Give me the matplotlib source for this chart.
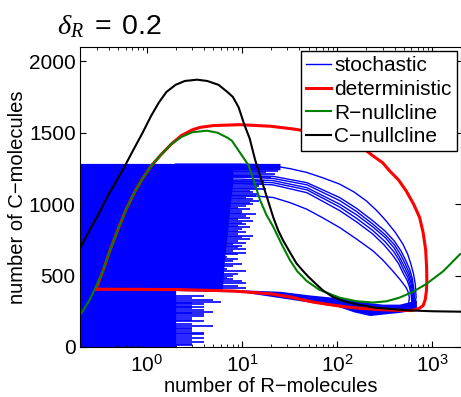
import numpy as np
import matplotlib.pyplot as plt

plt.rcParams['font.family'] = ['Liberation Sans', 'DejaVu Sans']
plt.rcParams['mathtext.fontset'] = 'custom'
plt.rcParams['mathtext.rm'] = 'Liberation Sans'
plt.rcParams['mathtext.it'] = 'Liberation Serif:italic'

# ---------------------------
# Data (R = number of R-molecules, C = number of C-molecules)
# ---------------------------
R_ZERO = 0.05  # states with R = 0 sit left of the log axis

# stochastic: solid block hugging the left edge
core_C = [0, 404, 404, 600, 800, 1000, 1150, 1240, 1240, 1285]
core_R = [2, 2, 6.2, 6.5, 7.0, 7.5, 8.0, 8.0, 25, 25]

# stochastic: single excursions below the deterministic low branch
low_spk_C = [357, 345, 330, 318, 310, 299, 290, 280, 270, 258, 247, 237, 229, 215,
             201, 190, 180, 163, 150, 135, 125, 112, 100, 89, 75, 61, 47, 35, 23, 12]
low_spk_R = [4, 3, 5, 6, 3, 4, 3, 4, 3, 4, 5, 3, 4, 4,
             3, 3, 4, 3, 5, 3, 3, 3, 4, 4, 3, 4, 3, 4, 3, 3]

# stochastic: excursions above it
up_spk_C = [416, 430, 451, 462, 474, 486, 498, 510, 533, 545, 568, 580, 603, 615,
            627, 650, 661, 673, 685, 697, 708, 720, 731, 743, 755, 767, 778, 790,
            802, 813, 825, 837, 848, 860, 871, 883, 894, 906, 918, 930, 941, 953,
            965, 976, 988, 1000, 1011, 1023, 1035, 1046, 1058, 1070, 1082, 1093,
            1105, 1116, 1128, 1140, 1152, 1163, 1187, 1198, 1210, 1222, 1233]
up_spk_R = [11, 9, 11, 10, 8, 7, 8, 9, 11, 7, 8, 10, 8, 9,
            7, 9, 11, 8, 11, 9, 10, 8, 11, 9, 12, 10, 13, 9,
            11, 9, 10, 12, 9, 11, 10, 13, 9, 12, 11, 14, 10, 10,
            12, 9, 11, 13, 12, 15, 13, 11, 14, 15, 13, 12,
            18, 14, 15, 16, 13, 17, 20, 15, 22, 18, 24]

# stochastic: bundle of excursions to high R
outer_R = [2, 9.5, 15, 21.3, 32, 47.6, 70, 106, 150, 202, 260, 326, 410, 490,
           550, 595, 635, 661, 675, 640]
outer_C = [1280, 1280, 1276, 1268, 1248, 1222, 1185, 1140, 1085, 1023, 955, 883,
           800, 720, 650, 580, 510, 439, 345, 290]
m1_R = [2, 9.5, 21, 48, 106, 160, 237, 320, 400, 470, 530, 580, 615, 640, 650, 610]
m1_C = [1200, 1200, 1195, 1150, 1046, 970, 883, 810, 740, 670, 600, 540, 480, 400, 330, 285]
m2_R = [2, 9.5, 21, 48, 106, 160, 237, 320, 400, 465, 520, 570, 605, 630, 640, 600]
m2_C = [1190, 1190, 1180, 1135, 1025, 948, 860, 785, 715, 645, 580, 520, 465, 390, 325, 283]
m3_R = [2, 9.5, 21, 48, 106, 160, 237, 320, 395, 455, 510, 560, 595, 620, 630, 590]
m3_C = [1175, 1175, 1165, 1115, 1000, 925, 840, 765, 695, 625, 560, 505, 450, 380, 320, 280]
m4_R = [2, 9.5, 21, 48, 106, 160, 237, 315, 390, 450, 500, 550, 585, 610, 620, 580]
m4_C = [1160, 1160, 1150, 1100, 980, 900, 815, 740, 670, 605, 540, 490, 435, 370, 315, 278]
m5_R = [2, 9.5, 21, 48, 106, 160, 237, 310, 380, 440, 490, 540, 575, 600, 610, 570]
m5_C = [1145, 1145, 1135, 1080, 955, 875, 790, 715, 645, 585, 520, 470, 420, 360, 310, 275]
inner_R = [2, 9.5, 15, 21.3, 32, 47.6, 70, 106, 160, 237, 300, 382, 460, 530,
           560, 573, 560]
inner_C = [1060, 1060, 1055, 1046, 1010, 965, 905, 836, 755, 673, 610, 533, 470,
           416, 380, 345, 290]
bundle = [(outer_R, outer_C), (m1_R, m1_C), (m2_R, m2_C), (m3_R, m3_C),
          (m4_R, m4_C), (m5_R, m5_C), (inner_R, inner_C)]

# stochastic: noisy return along the low branch
band_R = [2, 10, 25, 50, 100, 150, 220, 300, 450, 600, 680]
band_hi = [405, 400, 390, 365, 345, 330, 310, 300, 300, 320, 330]
band_lo = [395, 385, 345, 315, 285, 245, 220, 230, 242, 255, 270]

# deterministic limit cycle
det_R = [0.29, 0.35, 0.40, 0.50, 0.60, 0.75, 0.90, 1.1, 1.4, 1.8, 2.3, 3.0, 3.6, 5.0,
         9.5, 20, 34.4, 60, 120, 180, 237, 300, 355, 440, 530, 635, 735, 800, 850,
         870, 875, 865, 840, 800, 735, 650, 595, 400, 280, 180, 125, 80, 55, 32,
         20, 8, 2, 0.5, 0.29]
det_C = [404, 545, 660, 830, 960, 1090, 1180, 1265, 1345, 1420, 1480, 1520, 1537, 1550,
         1556, 1545, 1526, 1500, 1450, 1400, 1338, 1290, 1233, 1170, 1093, 1000, 906,
         800, 680, 560, 460, 390, 330, 290, 272, 260, 255, 257, 262, 270, 280, 298,
         315, 350, 372, 392, 402, 404, 404]

# R-nullcline
rnull_R = [0.2, 0.25, 0.29, 0.35, 0.40, 0.50, 0.60, 0.75, 0.90, 1.1, 1.4, 1.8, 2.3,
           3.0, 4.27, 5.5, 7.0, 7.8, 9.5, 11.6, 13.5, 15.4, 18, 21.3, 26, 31.7, 38,
           47.5, 65, 106, 160, 237, 330, 450, 620, 855, 1300, 1960]
rnull_C = [229, 330, 420, 545, 660, 830, 960, 1090, 1180, 1265, 1345, 1420, 1470,
           1503, 1514, 1500, 1465, 1444, 1360, 1275, 1150, 1030, 925, 840, 720, 610,
           530, 463, 400, 345, 320, 311, 320, 345, 385, 439, 530, 650]

# C-nullcline
cnull_R = [0.2, 0.25, 0.3, 0.4, 0.55, 0.7, 0.9, 1.1, 1.33, 1.6, 2.0, 2.5, 3.36, 4.3,
           5.65, 7.0, 8.0, 9.2, 10.5, 12, 13.7, 16, 18.5, 21.3, 24, 27, 32, 37.3,
           44, 50, 60, 71, 90, 120, 159, 250, 531, 1000, 2000]
cnull_C = [696, 820, 913, 1075, 1233, 1365, 1500, 1615, 1710, 1785, 1835, 1862,
           1871, 1862, 1835, 1785, 1750, 1677, 1560, 1460, 1310, 1167, 1035, 906,
           815, 745, 660, 585, 530, 490, 440, 395, 350, 318, 299, 275, 257, 250, 247]

# ---------------------------
# Plot
# ---------------------------
fig = plt.figure(figsize=(4.61, 3.97), dpi=100)
ax = fig.add_axes([0.1746, 0.126, 0.8254, 0.7557])

blue = '#0000ff'
ax.fill_betweenx(core_C, R_ZERO, core_R, color=blue, lw=0)
ax.hlines(low_spk_C, R_ZERO, low_spk_R, color=blue, lw=1.2)
ax.hlines(up_spk_C, R_ZERO, up_spk_R, color=blue, lw=1.2)
ax.fill_between(band_R, band_lo, band_hi, color=blue, lw=0)
for i, (r, c) in enumerate(bundle):
    ax.plot(r, c, color=blue, lw=1.0, label='stochastic' if i == 0 else None)

ax.plot(det_R, det_C, color='#ff0000', lw=2.2, label='deterministic')
ax.plot(rnull_R, rnull_C, color='#008000', lw=1.5, label='R\u2212nullcline')
ax.plot(cnull_R, cnull_C, color='black', lw=1.5, label='C\u2212nullcline')

ax.set_xscale('log')
ax.set_xlim(0.2, 2000)
ax.set_ylim(0, 2100)
ax.set_yticks([0, 500, 1000, 1500, 2000])
ax.tick_params(which='both', direction='in', top=True, right=True, labelsize=15)
ax.tick_params(which='major', length=4)
ax.tick_params(which='minor', length=2)
ax.tick_params(axis='x', pad=5)
ax.set_xlabel('number of R\u2212molecules', fontsize=14.5, labelpad=1)
ax.set_ylabel('number of C\u2212molecules', fontsize=14.5, labelpad=1)

leg = ax.legend(loc='upper right', fontsize=15, fancybox=False, framealpha=1,
                edgecolor='black', handlelength=1.2, handletextpad=0.15,
                labelspacing=0.22, borderpad=0.25, borderaxespad=0.2)
leg.get_frame().set_linewidth(1.0)

fig.text(0.124, 0.915, r'$\delta_R\ =\ 0.2$', fontsize=20.5)

plt.savefig('out.png', dpi=100)
